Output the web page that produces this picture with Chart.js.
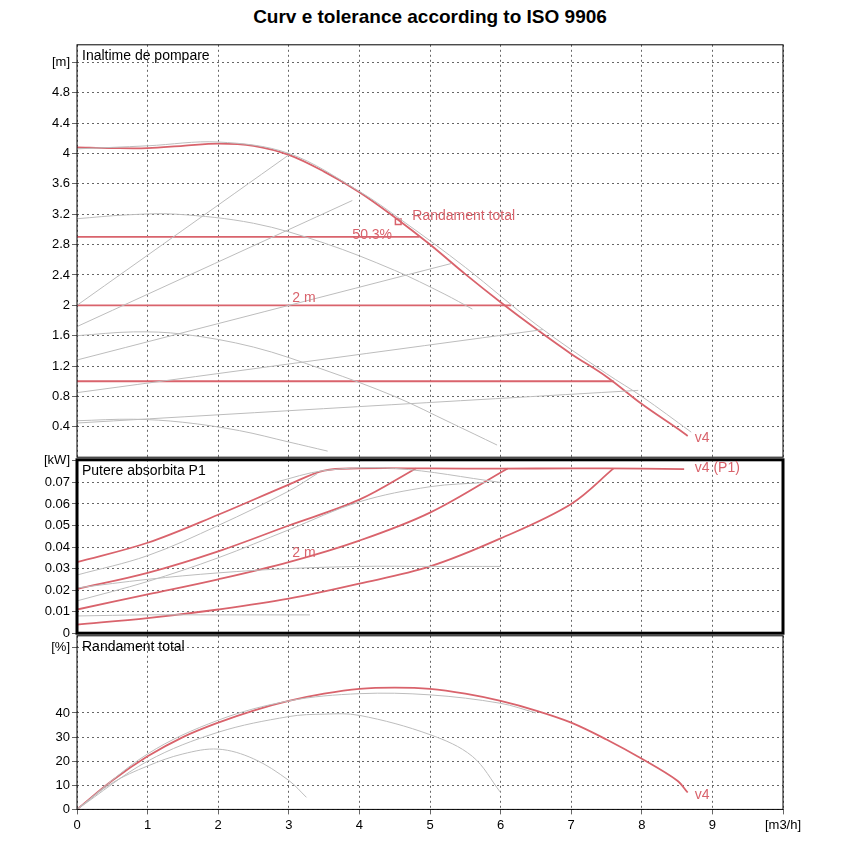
<!DOCTYPE html>
<html><head><meta charset="utf-8">
<script src="https://cdn.jsdelivr.net/npm/chart.js@4.4.1/dist/chart.umd.min.js"></script>
<style>
body{margin:0;background:#fff;width:860px;height:860px;position:relative;font-family:"Liberation Sans",Arial,sans-serif}
h1{position:absolute;top:6px;left:0;width:860px;text-align:center;margin:0;font-size:19px;font-weight:bold}
canvas{position:absolute;left:0}
</style></head><body>
<h1>Curv e tolerance according to ISO 9906</h1>
<canvas id="c1" width="860" height="432" style="top:35px"></canvas>
<canvas id="c2" width="860" height="193" style="top:450px"></canvas>
<canvas id="c3" width="860" height="220" style="top:626px"></canvas>
<script>
const RED = '#d9636c', GRAY = '#bdbdbd';

// head panel [m]
const headTicks = [0.4, 0.8, 1.2, 1.6, 2, 2.4, 2.8, 3.2, 3.6, 4, 4.4, 4.8, 5.2];
const headV4 = [[0,4.08],[0.5,4.07],[1,4.07],[1.5,4.1],[2,4.13],[2.5,4.1],[3,3.98],[3.5,3.76],[4,3.49],[4.5,3.16],[5,2.8],[5.5,2.41],[6,2.04],[6.5,1.69],[7,1.36],[7.5,1.06],[8,0.7],[8.5,0.38],[8.65,0.28]];
const headTolUp = [[0,4.06],[1,4.1],[2,4.15],[3,4.0],[4,3.5],[4.6,3.12],[5.5,2.5],[6.5,1.75],[7.5,1.1],[8,0.8],[8.7,0.33]];
const headLine29 = [[0,2.9],[4.85,2.9]];
const headLine20 = [[0,2.0],[6.15,2.0]];
const headLine10 = [[0,1.0],[7.6,1.0]];
const headSys1 = [[0,2.0],[3,3.98]];
const headSys2 = [[0,1.72],[3.9,3.38]];
const headSys3 = [[0,1.28],[5.3,2.55]];
const headSys4 = [[0,0.85],[6.6,1.68]];
const headSys5 = [[0,0.45],[7.95,0.88]];
const headSpeedA = [[0,3.14],[0.7,3.19],[1.4,3.2],[2.5,3.08],[3.5,2.82],[4.5,2.46],[5.2,2.15],[5.6,1.95]];
const headSpeedB = [[0,1.6],[0.8,1.65],[1.5,1.62],[2.5,1.45],[3.5,1.15],[4.5,0.8],[5.3,0.45],[5.95,0.16]];
const headSpeedC = [[0,0.48],[0.8,0.5],[1.5,0.46],[2.3,0.35],[3,0.2],[3.55,0.08]];
const headMarker = [[4.55,3.1]];

// power panel [kW]
const powerTicks = [0, 0.01, 0.02, 0.03, 0.04, 0.05, 0.06, 0.07, 0.08];
const powerV4 = [[0,0.033],[1,0.042],[2,0.055],[3,0.069],[3.5,0.0755],[4,0.0765],[5,0.0765],[6,0.0764],[7,0.0765],[8,0.0764],[8.6,0.0762]];
const powerB = [[0,0.0205],[1,0.028],[2,0.038],[3,0.05],[4,0.062],[4.8,0.0765]];
const powerC = [[0,0.011],[1,0.018],[2,0.025],[3,0.033],[4,0.043],[5,0.056],[6.1,0.0765]];
const powerD = [[0,0.004],[1,0.007],[2,0.011],[3,0.016],[4,0.023],[5,0.031],[6,0.044],[7,0.06],[7.6,0.0765]];
const powerG1 = [[0,0.027],[1,0.036],[2,0.05],[3,0.066],[3.4,0.074]];
const powerG2 = [[0,0.015],[1,0.024],[2,0.035],[3,0.048],[4,0.061],[5,0.068],[5.8,0.07]];
const powerG3 = [[0,0.021],[1,0.025],[2,0.028],[3,0.03],[4,0.031],[5,0.031],[6,0.031]];
const powerG4 = [[0,0.008],[1,0.0085],[2,0.0085],[3.3,0.0085]];
const powerG5 = [[2.8,0.07],[3.5,0.0755],[4.5,0.0765],[6,0.07]];

// efficiency panel [%]
const effTicks = [0, 10, 20, 30, 40, 67];
const effV4 = [[0,0],[0.5,12],[1,22],[1.5,30],[2,36],[2.5,41],[3,45],[3.5,48],[4,50],[4.5,50.5],[5,50],[5.5,48],[6,45],[6.5,41],[7,36],[7.5,29],[8,21],[8.5,12],[8.65,7]];
const effG1 = [[0,0],[1,23],[2,37],[3,45],[4,48],[5,47.5],[6,44],[6.5,40]];
const effG2 = [[0,0],[1,20],[2,32],[3,38.5],[3.5,39.5],[4,39],[5,31],[5.6,22],[6,7]];
const effG3 = [[0,0],[0.5,11],[1,18],[1.5,23],[2,25],[2.5,21],[3,12],[3.25,5]];

const xTicks = [0,1,2,3,4,5,6,7,8,9,10];

const pts = a => a.map(p => ({x: p[0], y: p[1]}));
const ln = (d, c, w) => ({data: pts(d), borderColor: c, borderWidth: w || 1, pointRadius: 0, tension: 0.35, fill: false});

const decor = {
  id: 'decor',
  afterDraw(chart, args, o) {
    const {ctx, chartArea: a, scales} = chart;
    ctx.save();
    ctx.strokeStyle = '#000';
    ctx.lineWidth = o.border || 1;
    ctx.strokeRect(a.left, a.top, a.right - a.left, a.bottom - a.top);
    ctx.font = '14px "Liberation Sans", Arial';
    ctx.textBaseline = 'middle';
    ctx.fillStyle = '#000';
    ctx.fillText(o.title, a.left + 5, a.top + 11);
    (o.notes || []).forEach(n => {
      ctx.fillStyle = RED;
      ctx.textAlign = n.align || 'left';
      ctx.fillText(n.text, scales.x.getPixelForValue(n.x), scales.y.getPixelForValue(n.y));
    });
    ctx.restore();
  }
};

function make(id, datasets, yTicks, yMax, yLabel, opts) {
  return new Chart(document.getElementById(id), {
    type: 'line',
    data: {datasets},
    plugins: [decor],
    options: {
      responsive: false, animation: false,
      layout: {padding: {top: opts.top, right: 77, bottom: opts.bottom}},
      plugins: {legend: {display: false}, tooltip: {enabled: false}, decor: opts.decor},
      scales: {
        x: {
          type: 'linear', min: 0, max: 10,
          afterBuildTicks: s => { s.ticks = xTicks.map(v => ({value: v})); },
          afterFit: s => { if (!opts.showX) s.height = 0; },
          border: {display: false, dash: [2, 3]},
          grid: {color: '#666', tickLength: opts.showX ? 5 : 0},
          ticks: {display: !!opts.showX, color: '#000', font: {size: 13, family: 'Liberation Sans'}, maxRotation: 0,
            callback: v => v === 10 ? '[m3/h]' : v}
        },
        y: {
          type: 'linear', min: 0, max: yMax,
          afterBuildTicks: s => { s.ticks = yTicks.map(v => ({value: v})); },
          afterFit: s => { s.width = 77; },
          border: {display: false, dash: [2, 3]},
          grid: {color: '#666', tickLength: 5},
          ticks: {color: '#000', font: {size: 13, family: 'Liberation Sans'}, padding: 2,
            callback: v => v === yTicks[yTicks.length - 1] ? yLabel : v}
        }
      }
    }
  });
}

make('c1', [
  ln(headSys1, GRAY), ln(headSys2, GRAY), ln(headSys3, GRAY), ln(headSys4, GRAY), ln(headSys5, GRAY),
  ln(headSpeedA, GRAY), ln(headSpeedB, GRAY), ln(headSpeedC, GRAY), ln(headTolUp, GRAY),
  ln(headLine29, RED, 1.8), ln(headLine20, RED, 1.8), ln(headLine10, RED, 1.8),
  ln(headV4, RED, 1.8),
  {data: pts(headMarker), showLine: false, pointStyle: 'rect', pointRadius: 4, borderColor: RED, borderWidth: 1.5, backgroundColor: '#fff'}
], headTicks, 5.43, '[m]', {top: 5, bottom: 3, decor: {title: 'Inaltime de pompare', border: 1, notes: [
  {x: 4.75, y: 3.18, text: 'Randament total'}, {x: 3.9, y: 2.92, text: '50.3%'},
  {x: 3.05, y: 2.1, text: '2 m'}, {x: 8.75, y: 0.25, text: 'v4'}]}});

make('c2', [
  ln(powerG1, GRAY), ln(powerG2, GRAY), ln(powerG3, GRAY), ln(powerG4, GRAY), ln(powerG5, GRAY),
  ln(powerB, RED, 1.8), ln(powerC, RED, 1.8), ln(powerD, RED, 1.8), ln(powerV4, RED, 1.8)
], powerTicks, 0.0805, '[kW]', {top: 5, bottom: 2, decor: {title: 'Putere absorbita P1', border: 3, notes: [
  {x: 8.75, y: 0.0765, text: 'v4 (P1)'}, {x: 3.05, y: 0.037, text: '2 m'}]}});

make('c3', [
  ln(effG1, GRAY), ln(effG2, GRAY), ln(effG3, GRAY), ln(effV4, RED, 1.8)
], [0, 10, 20, 30, 40, 50, 67].filter(v => v !== 50), 72, '[%]', {top: 5, bottom: 10, showX: true, decor: {title: 'Randament total', border: 1, notes: [
  {x: 8.75, y: 6, text: 'v4'}]}});
</script>
</body></html>
